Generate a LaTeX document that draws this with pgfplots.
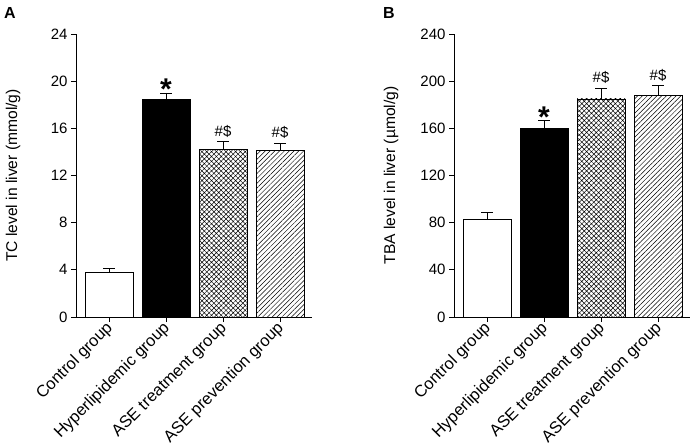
\documentclass[border=0pt]{standalone}
\usepackage{fontspec}
\setmainfont{Liberation Sans}
\usepackage{pgfplots}
\pgfplotsset{compat=1.18}
\usetikzlibrary{patterns.meta}

\pgfplotsset{
 mybar/.style={
  scale only axis, width=236bp, height=283bp,
  axis lines*=left, axis line style={-, line width=0.8bp},
  xmin=-0.58, xmax=3.56, ymin=0,
  xtick={0,1,2,3},
  xticklabels={Control group, Hyperlipidemic group, ASE treatment group, ASE prevention group},
  tick align=outside, major tick length=5bp,
  tick style={black, line width=0.8bp},
  ticklabel style={font=\fontsize{15bp}{18bp}\selectfont},
  x tick label style={xshift=2bp, yshift=-3bp, rotate=45, anchor=east, inner sep=1bp, font=\fontsize{16.5bp}{18bp}\selectfont},
  label style={font=\fontsize{15.6bp}{18bp}\selectfont},
  /pgf/number format/assume math mode=true,
  ylabel style={at={(axis description cs:0,0.5)}, anchor=center, rotate=0, yshift=63bp},
  clip=false,
  every axis plot/.append style={draw=black, line width=0.7bp, ybar, bar width=48bp, bar shift=0pt},
  error bars/y dir=plus, error bars/y explicit,
  error bars/error bar style={line width=0.8bp, black},
  error bars/error mark options={rotate=90, mark size=6bp, line width=0.8bp, black},
 },
}
\tikzset{
 sigstar/.style={anchor=base, yshift=-7bp, font=\fontsize{30bp}{30bp}\selectfont\bfseries},
 sighash/.style={anchor=base, yshift=5.5bp, font=\fontsize{15bp}{18bp}\selectfont},
}

\begin{document}
\begin{tikzpicture}
\useasboundingbox (-76bp,-128bp) rectangle (619bp,317bp);
\begin{axis}[mybar, at={(0,0)}, ymax=24, ytick={0,4,...,24},
  ylabel={TC level in liver (mmol/g)}]
\addplot[fill=white] coordinates {(0,3.82) +- (0,0.28)};
\addplot[fill=black] coordinates {(1,18.45) +- (0,0.55)};
\addplot[pattern={Hatch[angle=45,distance=3.4bp,line width=0.5bp]}] coordinates {(2,14.23) +- (0,0.63)};
\addplot[pattern={Lines[angle=45,distance=3.4bp,line width=0.5bp]}] coordinates {(3,14.15) +- (0,0.57)};
\node[sigstar] at (axis cs:1,19.0) {*};
\node[sighash] at (axis cs:2,14.86) {\#\$};
\node[sighash] at (axis cs:3,14.72) {\#\$};
\end{axis}
\begin{axis}[mybar, at={(378bp,0)}, ymax=240, ytick={0,40,...,240},
  ylabel={TBA level in liver (µmol/g)}]
\addplot[fill=white] coordinates {(0,82.7) +- (0,5.9)};
\addplot[fill=black] coordinates {(1,160) +- (0,6.4)};
\addplot[pattern={Hatch[angle=45,distance=3.4bp,line width=0.5bp]}] coordinates {(2,185) +- (0,8.9)};
\addplot[pattern={Lines[angle=45,distance=3.4bp,line width=0.5bp]}] coordinates {(3,188.2) +- (0,7.9)};
\node[sigstar] at (axis cs:1,166.4) {*};
\node[sighash] at (axis cs:2,193.9) {\#\$};
\node[sighash] at (axis cs:3,196.1) {\#\$};
\end{axis}
\node[font=\fontsize{16bp}{16bp}\selectfont\bfseries] at (-66bp,304bp) {A};
\node[font=\fontsize{16bp}{16bp}\selectfont\bfseries] at (313bp,304bp) {B};
\end{tikzpicture}
\end{document}
